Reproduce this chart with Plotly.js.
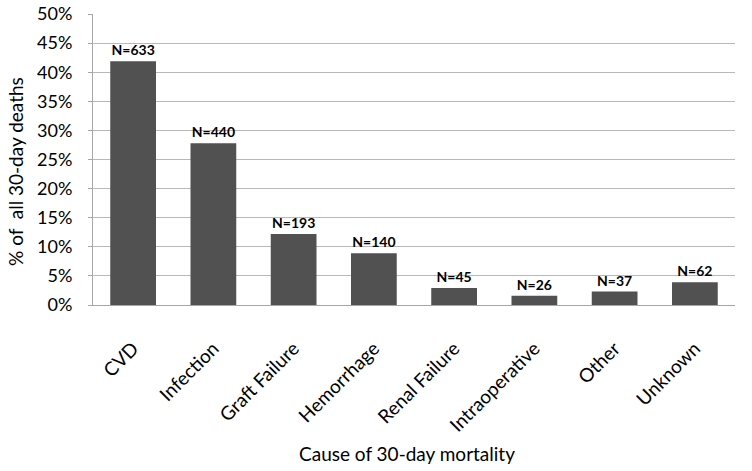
<!DOCTYPE html>
<html><head><meta charset="utf-8">
<script src="https://cdn.plot.ly/plotly-3.0.1.min.js"></script>
<style>html,body{margin:0;padding:0;background:#fff;}#chart{width:752px;height:471px;}</style>
</head><body><div id="chart"></div>
<script>
const categories = ["CVD","Infection","Graft Failure","Hemorrhage","Renal Failure","Intraoperative","Other","Unknown"];
const percentDeaths = [41.9, 27.8, 12.2, 8.9, 2.9, 1.6, 2.3, 3.9];
const counts = [633, 440, 193, 140, 45, 26, 37, 62];
const countLabels = counts.map(n => "N=" + n);
const xTitle = "Cause of 30-day mortality";
const yTitle = "% of  all 30-day deaths";

const FONT = "Lato, 'Open Sans', sans-serif";

const trace = {
  type: "bar",
  x: categories,
  y: percentDeaths,
  text: countLabels,
  textposition: "outside",
  cliponaxis: false,
  textfont: {family: FONT, size: 14, color: "#000", weight: "bold"},
  marker: {color: "#515151", line: {width: 0}},
  hoverinfo: "skip"
};

const layout = {
  width: 752, height: 471,
  margin: {l: 93, r: 17, t: 14, b: 166},
  paper_bgcolor: "#fff", plot_bgcolor: "#fff",
  bargap: 0.43,
  showlegend: false,
  font: {family: FONT, color: "#000"},
  xaxis: {
    tickangle: -45,
    tickfont: {size: 19, color: "#000"},
    showline: true, linecolor: "#a6a6a6", linewidth: 1,
    ticks: "", showgrid: false,
    ticklabelstandoff: 24,
    automargin: false
  },
  yaxis: {
    range: [0, 50], dtick: 5, ticksuffix: "%",
    tickfont: {size: 18, color: "#000"},
    showline: true, linecolor: "#a6a6a6", linewidth: 1,
    ticks: "outside", ticklen: 4, tickcolor: "#a6a6a6",
    ticklabelstandoff: 12,
    showgrid: true, gridcolor: "#b8b8b8", gridwidth: 1,
    zeroline: false,
    automargin: false
  },
  annotations: [
    {text: xTitle, xref: "paper", yref: "paper", x: 0.489, y: -0.512,
     xanchor: "center", yanchor: "middle", showarrow: false,
     font: {family: FONT, size: 19, color: "#000"}},
    {text: yTitle, xref: "paper", yref: "paper", x: -0.12, y: 0.4605,
     xanchor: "center", yanchor: "middle", textangle: -90, showarrow: false,
     font: {family: FONT, size: 19, color: "#000"}}
  ]
};

Plotly.newPlot("chart", [trace], layout, {displayModeBar: false, staticPlot: true});
</script></body></html>
